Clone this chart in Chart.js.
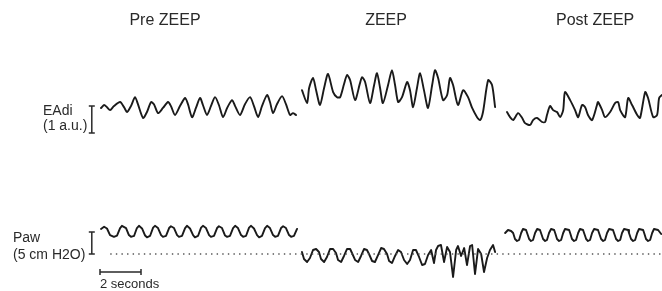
<!DOCTYPE html>
<html>
<head>
<meta charset="utf-8">
<script src="https://cdn.jsdelivr.net/npm/chart.js@4"></script>
<style>
  body { margin: 0; background: #fff; }
  #wrap { width: 662px; height: 291px; }
</style>
</head>
<body>
<div id="wrap"><canvas id="myChart" width="662" height="291"></canvas></div>
<script>
// phases of the recording
const phaseNames = ['Pre ZEEP', 'ZEEP', 'Post ZEEP'];
const phaseCenters = [3.17, 13.95, 24.15]; // seconds

// EAdi traces, [time s, a.u.]
const preEadi = [[0.05,0.93],[0.20,1.04],[0.34,0.96],[0.49,0.85],[0.68,1.00],[0.98,1.15],[1.17,0.96],[1.32,0.78],[1.51,1.00],[1.71,1.33],[1.85,1.07],[2.10,0.56],[2.29,0.78],[2.49,1.15],[2.63,1.07],[2.83,0.74],[3.07,0.93],[3.32,1.15],[3.46,1.00],[3.66,0.67],[3.90,1.00],[4.15,1.30],[4.29,1.07],[4.49,0.59],[4.68,0.93],[4.88,1.30],[5.02,1.04],[5.22,0.67],[5.41,1.00],[5.61,1.33],[5.80,1.04],[6.00,0.59],[6.20,0.93],[6.44,1.22],[6.59,1.00],[6.83,0.67],[7.07,1.07],[7.32,1.33],[7.51,1.00],[7.71,0.59],[7.90,1.00],[8.15,1.41],[8.29,1.15],[8.44,0.74],[8.63,1.07],[8.88,1.37],[9.07,1.07],[9.27,0.67],[9.41,0.74],[9.56,0.67]];
const zeepEadi = [[9.85,1.59],[10.10,1.11],[10.20,1.67],[10.39,2.04],[10.54,1.59],[10.73,1.04],[10.93,1.67],[11.12,2.19],[11.37,1.52],[11.56,1.33],[11.71,1.33],[11.90,1.81],[12.05,2.15],[12.20,1.96],[12.44,1.22],[12.68,1.85],[12.78,2.07],[12.93,1.89],[13.17,1.11],[13.37,1.78],[13.51,2.22],[13.66,1.67],[13.80,1.11],[14.05,1.78],[14.24,2.33],[14.39,1.78],[14.54,1.15],[14.73,1.33],[14.98,1.89],[15.12,1.59],[15.27,0.96],[15.46,1.67],[15.61,2.22],[15.80,1.59],[16.00,0.93],[16.20,1.78],[16.34,2.33],[16.49,2.04],[16.73,1.22],[16.93,1.41],[17.07,2.04],[17.22,1.78],[17.46,1.04],[17.71,1.59],[17.95,1.33],[18.15,0.93],[18.39,0.59],[18.54,0.48],[18.68,0.78],[18.93,1.96],[19.12,1.78],[19.27,0.96]];
const postEadi = [[19.85,0.78],[20.00,0.59],[20.15,0.48],[20.39,0.74],[20.59,0.56],[20.73,0.37],[20.98,0.30],[21.12,0.48],[21.32,0.56],[21.56,0.41],[21.71,0.41],[21.80,0.67],[21.95,1.00],[22.10,0.85],[22.29,0.78],[22.44,0.59],[22.59,0.85],[22.68,1.52],[22.93,1.22],[23.17,0.85],[23.32,0.59],[23.51,1.04],[23.66,0.96],[23.80,0.67],[24.00,0.48],[24.24,1.04],[24.29,1.15],[24.49,0.85],[24.63,0.59],[24.88,0.78],[25.12,1.11],[25.27,1.15],[25.37,0.85],[25.61,0.59],[25.76,1.30],[25.95,1.04],[26.20,0.67],[26.34,0.56],[26.59,1.52],[26.73,1.30],[26.98,0.59],[27.17,0.67],[27.27,1.30],[27.41,1.41]];

// Paw traces, [time s, cm H2O]
const prePaw = [[0.05,5.7],[0.20,6.2],[0.34,5.8],[0.49,4.3],[0.68,3.9],[0.83,4.2],[0.98,5.9],[1.07,6.4],[1.27,5.9],[1.41,4.3],[1.51,3.9],[1.66,4.1],[1.80,5.9],[1.90,6.4],[2.05,5.8],[2.20,4.2],[2.29,3.8],[2.44,4.1],[2.59,6.0],[2.68,6.4],[2.83,5.9],[2.98,4.3],[3.07,3.9],[3.22,4.1],[3.37,5.9],[3.46,6.3],[3.61,5.9],[3.76,4.3],[3.85,3.9],[4.00,4.1],[4.15,5.9],[4.24,6.4],[4.39,5.8],[4.54,4.3],[4.63,3.8],[4.78,4.1],[4.93,6.0],[5.02,6.4],[5.17,5.9],[5.32,4.3],[5.41,3.9],[5.56,4.1],[5.71,5.9],[5.80,6.3],[5.95,5.9],[6.10,4.2],[6.20,3.9],[6.34,4.1],[6.49,5.9],[6.59,6.4],[6.73,5.9],[6.88,4.3],[6.98,3.9],[7.12,4.1],[7.27,6.0],[7.37,6.4],[7.51,5.8],[7.66,4.3],[7.76,3.8],[7.90,4.1],[8.05,5.9],[8.15,6.4],[8.29,5.9],[8.44,4.3],[8.54,3.9],[8.68,4.1],[8.83,5.9],[8.93,6.3],[9.07,5.9],[9.22,4.3],[9.32,3.9],[9.46,4.1],[9.61,5.7]];
const zeepPaw = [[9.85,0.45],[9.95,-1.14],[10.10,-1.82],[10.24,-0.91],[10.39,0.91],[10.54,1.14],[10.68,0.45],[10.78,-1.14],[10.93,-1.82],[11.07,-0.68],[11.22,1.14],[11.37,1.14],[11.51,0.23],[11.61,-1.36],[11.76,-1.82],[11.90,-0.45],[12.05,1.14],[12.20,1.14],[12.29,0.23],[12.44,-1.36],[12.59,-1.82],[12.73,-0.45],[12.88,1.14],[13.02,0.91],[13.12,0.00],[13.27,-1.59],[13.41,-1.82],[13.56,-0.23],[13.71,1.36],[13.85,1.14],[14.00,0.00],[14.10,-1.59],[14.24,-2.05],[14.39,-0.45],[14.54,0.91],[14.68,0.45],[14.83,-1.36],[14.98,-2.27],[15.12,-1.36],[15.27,0.91],[15.41,0.91],[15.56,-0.68],[15.71,-2.50],[15.85,-2.27],[16.00,-0.23],[16.15,0.91],[16.29,-2.05],[16.39,0.91],[16.49,1.82],[16.63,2.05],[16.78,-1.82],[16.93,1.59],[17.07,0.45],[17.22,-5.23],[17.37,0.91],[17.46,1.82],[17.61,-0.45],[17.76,1.36],[17.90,-2.50],[18.05,1.82],[18.15,2.05],[18.29,-4.55],[18.44,1.14],[18.59,0.00],[18.73,-4.09],[18.88,-0.91],[19.02,0.91],[19.17,2.05],[19.27,0.45]];
const postPaw = [[19.76,4.77],[19.90,5.45],[20.05,5.23],[20.15,4.77],[20.24,3.41],[20.34,2.95],[20.44,3.18],[20.54,4.77],[20.63,5.68],[20.78,5.45],[20.83,4.77],[20.93,3.41],[21.02,2.95],[21.12,3.18],[21.22,4.77],[21.32,5.68],[21.46,5.45],[21.51,4.77],[21.61,3.41],[21.71,2.95],[21.80,3.18],[21.90,4.77],[22.00,5.68],[22.15,5.45],[22.20,4.77],[22.29,3.41],[22.39,2.95],[22.49,3.18],[22.59,4.77],[22.68,5.68],[22.88,5.45],[22.93,4.77],[23.02,3.41],[23.12,2.95],[23.22,3.18],[23.32,4.77],[23.41,5.68],[23.56,5.45],[23.61,4.77],[23.71,3.41],[23.80,2.95],[23.90,3.18],[24.00,4.77],[24.10,5.68],[24.29,5.45],[24.34,4.77],[24.44,3.41],[24.54,2.95],[24.63,3.18],[24.73,4.77],[24.83,5.68],[25.02,5.45],[25.07,4.77],[25.17,3.41],[25.27,2.95],[25.37,3.18],[25.46,4.77],[25.56,5.68],[25.76,5.45],[25.80,4.77],[25.90,3.41],[26.00,2.95],[26.10,3.18],[26.20,4.77],[26.29,5.68],[26.49,5.45],[26.54,4.77],[26.63,3.41],[26.73,2.95],[26.83,3.18],[26.93,4.77],[27.02,5.68],[27.22,5.45],[27.37,4.55]];

// zero pressure reference (dotted)
const pawBaseline = [[0.5,0],[27.41,0]];

// scale bars
const eadiBar = 1;    // a.u.
const pawBar = 5;     // cm H2O
const timeBar = 2;    // seconds

const toXY = (pairs) => pairs.map(p => ({x: p[0], y: p[1]}));

const traceColor = '#1a1a1a';

const trace = (pairs, axis, tension) => ({
    data: toXY(pairs),
    yAxisID: axis,
    borderColor: traceColor,
    borderWidth: 1.9,
    pointRadius: 0,
    tension: tension,
    borderJoinStyle: 'round',
    borderCapStyle: 'round'
});

// labels, scale bars
const annotations = {
    id: 'annotations',
    afterDraw(chart) {
        const ctx = chart.ctx;
        const x = chart.scales.x;
        const yE = chart.scales.yE;
        const yP = chart.scales.yP;
        ctx.save();
        ctx.fillStyle = '#2a2a2a';
        ctx.strokeStyle = '#2a2a2a';
        ctx.lineWidth = 1.5;

        ctx.font = '16px "Liberation Sans", Arial, sans-serif';
        ctx.textAlign = 'center';
        for (let i = 0; i < phaseNames.length; i++) {
            ctx.fillText(phaseNames[i], x.getPixelForValue(phaseCenters[i]), 25);
        }

        ctx.textAlign = 'left';
        ctx.font = '14px "Liberation Sans", Arial, sans-serif';
        ctx.fillText('EAdi', 43, 115);
        ctx.fillText('(1 a.u.)', 43, 130);
        ctx.fillText('Paw', 13, 242);
        ctx.fillText('(5 cm H2O)', 13, 259);

        const barX = x.getPixelForValue(-0.4);
        const drawBar = (top, bottom) => {
            ctx.beginPath();
            ctx.moveTo(barX, top); ctx.lineTo(barX, bottom);
            ctx.moveTo(barX - 3, top); ctx.lineTo(barX + 3, top);
            ctx.moveTo(barX - 3, bottom); ctx.lineTo(barX + 3, bottom);
            ctx.stroke();
        };
        drawBar(yE.getPixelForValue(eadiBar), yE.getPixelForValue(0));
        drawBar(yP.getPixelForValue(pawBar), yP.getPixelForValue(0));

        const tY = yP.getPixelForValue(-4.1);
        const t0 = x.getPixelForValue(0);
        const t1 = x.getPixelForValue(timeBar);
        ctx.beginPath();
        ctx.moveTo(t0, tY); ctx.lineTo(t1, tY);
        ctx.moveTo(t0, tY - 3); ctx.lineTo(t0, tY + 3);
        ctx.moveTo(t1, tY - 3); ctx.lineTo(t1, tY + 3);
        ctx.stroke();
        ctx.font = '13px "Liberation Sans", Arial, sans-serif';
        ctx.fillText('2 seconds', t0, 288);
        ctx.restore();
    }
};

new Chart(document.getElementById('myChart'), {
    type: 'line',
    data: {
        datasets: [
            {
                data: toXY(pawBaseline),
                yAxisID: 'yP',
                borderColor: '#555',
                borderWidth: 1.4,
                borderDash: [1.4, 4.2],
                pointRadius: 0
            },
            trace(preEadi, 'yE', 0.25),
            trace(zeepEadi, 'yE', 0.25),
            trace(postEadi, 'yE', 0.25),
            trace(prePaw, 'yP', 0),
            trace(zeepPaw, 'yP', 0),
            trace(postPaw, 'yP', 0)
        ]
    },
    options: {
        responsive: false,
        animation: false,
        devicePixelRatio: 1,
        layout: { padding: { left: 100, right: 0, top: 0, bottom: 0 } },
        plugins: { legend: { display: false }, tooltip: { enabled: false } },
        scales: {
            x: { type: 'linear', min: 0, max: 27.41, display: false },
            yE: { type: 'linear', min: -5.85, max: 4.93, display: false },
            yP: { type: 'linear', min: -8.41, max: 57.73, display: false }
        }
    },
    plugins: [annotations]
});
</script>
</body>
</html>
